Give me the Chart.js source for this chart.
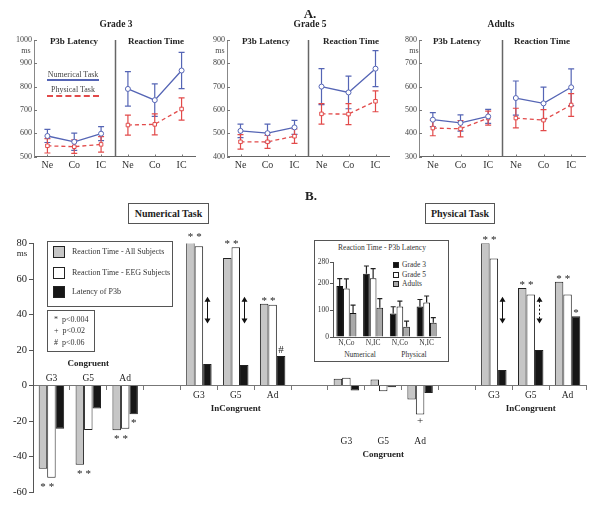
<!DOCTYPE html>
<html>
<head>
<meta charset="utf-8">
<title>P3b latency and reaction time</title>
<script src="https://cdn.jsdelivr.net/npm/chart.js@4.4.1/dist/chart.umd.min.js"></script>
<style>
  body { margin: 0; background: #fff; }
  #page { position: relative; width: 600px; height: 514px; overflow: hidden;
          font-family: "Liberation Serif", "Times New Roman", serif; color: #222; }
  #page canvas { position: absolute; }
  .t { position: absolute; white-space: nowrap; transform: translate(-50%, -50%); line-height: 1; }
  .l { position: absolute; white-space: nowrap; transform: translateY(-50%); line-height: 1; }
  .b { font-weight: bold; }
  .box { position: absolute; box-sizing: border-box; border: 1px solid #555; background: #fff; }
  .ttl { display: flex; align-items: center; justify-content: center; white-space: nowrap; font-size: 10px; font-weight: bold; }
  .sw { position: absolute; box-sizing: border-box; border: 1px solid #222; }
</style>
</head>
<body>
<div id="page">
  <canvas id="mainChart" width="600" height="514" style="left:0;top:0"></canvas>

  <!-- panel A -->
  <canvas id="chartG3" width="200" height="180" style="left:0;top:0"></canvas>
  <canvas id="chartG5" width="196" height="180" style="left:198px;top:0"></canvas>
  <canvas id="chartAd" width="208" height="180" style="left:392px;top:0"></canvas>

  <div class="t b" style="left:310px;top:13px;font-size:13px">A.</div>
  <div class="t b" style="left:116px;top:24.5px;font-size:9.5px">Grade 3</div>
  <div class="t b" style="left:310px;top:24.5px;font-size:9.5px">Grade 5</div>
  <div class="t b" style="left:501px;top:24.5px;font-size:9.5px">Adults</div>
  <div class="t b" style="left:74px;top:41px;font-size:9px">P3b Latency</div>
  <div class="t b" style="left:156px;top:41px;font-size:9px">Reaction Time</div>
  <div class="t b" style="left:266px;top:41px;font-size:9px">P3b Latency</div>
  <div class="t b" style="left:351px;top:41px;font-size:9px">Reaction Time</div>
  <div class="t b" style="left:457px;top:41px;font-size:9px">P3b Latency</div>
  <div class="t b" style="left:542px;top:41px;font-size:9px">Reaction Time</div>
  <div class="t" style="left:26px;top:51px;font-size:8px;color:#444">ms</div>
  <div class="t" style="left:220px;top:51px;font-size:8px;color:#444">ms</div>
  <div class="t" style="left:414px;top:51px;font-size:8px;color:#444">ms</div>

  <div class="t" style="left:73px;top:75px;font-size:8px;color:#444">Numerical Task</div>
  <div style="position:absolute;left:47px;top:79px;width:52px;border-top:2px solid #5565b5"></div>
  <div class="t" style="left:73px;top:90px;font-size:8px;color:#444">Physical Task</div>
  <div style="position:absolute;left:47px;top:95px;width:52px;border-top:2px dashed #e24a4a"></div>

  <!-- panel B -->
  <div class="t b" style="left:311px;top:195px;font-size:13px">B.</div>
  <div class="box ttl" style="left:128px;top:203px;width:81px;height:21px">Numerical Task</div>
  <div class="box ttl" style="left:425px;top:203px;width:70px;height:21px">Physical Task</div>
  <div class="t" style="left:22px;top:253px;font-size:9px">ms</div>

  <div class="box" style="left:47px;top:241px;width:126px;height:66px"></div>
  <div class="sw" style="left:53px;top:246px;width:12px;height:12px;background:#c6c6c6"></div>
  <div class="l" style="left:72px;top:252px;font-size:8px;color:#333">Reaction Time - All Subjects</div>
  <div class="sw" style="left:53px;top:267px;width:12px;height:12px;background:#fff"></div>
  <div class="l" style="left:72px;top:273px;font-size:8px;color:#333">Reaction Time - EEG Subjects</div>
  <div class="sw" style="left:53px;top:286px;width:12px;height:12px;background:#161616"></div>
  <div class="l" style="left:72px;top:292px;font-size:8px;color:#333">Latency of P3b</div>

  <div class="box" style="left:47px;top:310px;width:48px;height:42px"></div>
  <div class="l" style="left:54px;top:320px;font-size:8px;color:#333">*&nbsp;&nbsp;p&lt;0.004</div>
  <div class="l" style="left:54px;top:331px;font-size:8px;color:#333">+&nbsp;&nbsp;p&lt;0.02</div>
  <div class="l" style="left:54px;top:343px;font-size:8px;color:#333">#&nbsp;&nbsp;p&lt;0.06</div>

  <div class="box" style="left:314px;top:240px;width:135px;height:122px"></div>
  <div class="t" style="left:382px;top:248px;font-size:7.5px;color:#333">Reaction Time - P3b Latency</div>
  <div class="sw" style="left:393px;top:262px;width:6px;height:6px;background:#111"></div>
  <div class="l" style="left:402px;top:265px;font-size:7.5px;color:#333">Grade 3</div>
  <div class="sw" style="left:393px;top:272px;width:6px;height:6px;background:#fff"></div>
  <div class="l" style="left:402px;top:275px;font-size:7.5px;color:#333">Grade 5</div>
  <div class="sw" style="left:393px;top:281px;width:6px;height:6px;background:#a9a9a9"></div>
  <div class="l" style="left:402px;top:284px;font-size:7.5px;color:#333">Adults</div>
  <div class="t" style="left:360px;top:355px;font-size:7.5px;color:#333">Numerical</div>
  <div class="t" style="left:414px;top:355px;font-size:7.5px;color:#333">Physical</div>
  <canvas id="insetChart" width="135" height="122" style="left:314px;top:240px"></canvas>
</div>

<script>
// ---- panel A: means and error bars per group (Grade 3, Grade 5, Adults), conditions Ne / Co / IC
const conditions = ['Ne', 'Co', 'IC'];
const p3bNum = [[588, 563, 598], [510, 500, 525], [458, 444, 472]];
const p3bNumErr = [[28, 37, 30], [29, 39, 30], [30, 35, 30]];
const p3bPhy = [[546, 542, 552], [463, 463, 487], [422, 419, 465]];
const p3bPhyErr = [[31, 29, 33], [31, 28, 31], [33, 35, 30]];
const rtNum = [[790, 742, 869], [700, 675, 777], [551, 528, 597]];
const rtNumErr = [[74, 70, 78], [77, 70, 77], [73, 70, 79]];
const rtPhy = [[635, 638, 704], [583, 582, 637], [465, 456, 521]];
const rtPhyErr = [[43, 45, 48], [44, 45, 45], [42, 45, 49]];
const yMins = [500, 400, 300];

// ---- panel B: difference scores (ms)
const bCats = ['G3', 'G5', 'Ad', '', 'G3', 'G5', 'Ad', '', 'G3', 'G5', 'Ad', '', 'G3', 'G5', 'Ad'];
const rtAll = [-46.9, -44.7, -25.2, null, 81.7, 71.9, 46, null, 3.8, 3.4, -7.9, null, 80.4, 55, 58.4];
const rtEeg = [-52, -25, -24.4, null, 78.5, 77.9, 45.5, null, 4.3, -3.2, -16.4, null, 71.5, 51.3, 51.3];
const p3bLat = [-24.4, -13, -16.2, null, 12.1, 11.5, 16.6, null, -2.8, -1, -4.2, null, 8.7, 20, 39];
// significance marks: [category, dataset, symbol]
const sigMarks = [
  [0, 0, '*'], [0, 1, '*'], [1, 0, '*'], [1, 1, '*'], [2, 0, '*'], [2, 1, '*'], [2, 2, '*'],
  [4, 0, '*'], [4, 1, '*'], [5, 0, '*'], [5, 1, '*'], [6, 0, '*'], [6, 1, '*'], [6, 2, '#'],
  [10, 1, '+'],
  [12, 0, '*'], [12, 1, '*'], [13, 0, '*'], [13, 1, '*'], [14, 0, '*'], [14, 1, '*'], [14, 2, '*']
];
const arrowCats = [4, 5, 12, 13];
const arrowFrom = [50, 50, 50, 50];
const arrowTo = [35, 35, 35, 35];

// ---- inset: RT - P3b latency
const insetCats = ['N,Co', 'N,IC', 'N,Co', 'N,IC'];
const insetTicks = [0, 100, 200, 280];
const insetG3 = [190, 236, 88, 114];
const insetG5 = [181, 219, 114, 129];
const insetAd = [90, 109, 38, 53];
const insetG3Err = [28, 29, 25, 26];
const insetG5Err = [36, 36, 20, 24];
const insetAdErr = [29, 34, 21, 19];

Chart.defaults.font.family = '"Liberation Serif", "Times New Roman", serif';
Chart.defaults.color = '#333';
Chart.defaults.animation = false;
Chart.defaults.responsive = false;
Chart.defaults.plugins.legend.display = false;
Chart.defaults.plugins.tooltip.enabled = false;

const BLUE = '#5565b5';
const RED = '#e24a4a';

const errorBars = {
  id: 'errorBars',
  beforeDatasetsDraw(chart, args, opts) {
    const ctx = chart.ctx;
    const ys = chart.scales.y;
    const cap = opts.cap || 3;
    chart.data.datasets.forEach((ds, i) => {
      if (!ds.err) return;
      const meta = chart.getDatasetMeta(i);
      ctx.save();
      ctx.strokeStyle = ds.errColor || ds.borderColor;
      ctx.lineWidth = 1.2;
      ctx.beginPath();
      meta.data.forEach((pt, j) => {
        const v = ds.data[j], e = ds.err[j];
        if (v == null || e == null) return;
        const top = ys.getPixelForValue(v + e);
        const bot = ys.getPixelForValue(opts.upOnly ? v : v - e);
        ctx.moveTo(pt.x, top); ctx.lineTo(pt.x, bot);
        ctx.moveTo(pt.x - cap, top); ctx.lineTo(pt.x + cap, top);
        if (!opts.upOnly) { ctx.moveTo(pt.x - cap, bot); ctx.lineTo(pt.x + cap, bot); }
      });
      ctx.stroke();
      ctx.restore();
    });
  }
};

// divider between the two sub-panels and short inward ticks
const panelDecor = {
  id: 'panelDecor',
  afterDraw(chart) {
    const { ctx, chartArea: a, scales: { x, y } } = chart;
    ctx.save();
    ctx.strokeStyle = '#777';
    ctx.lineWidth = 1;
    ctx.beginPath();
    y.ticks.forEach(t => {
      const py = Math.round(y.getPixelForValue(t.value)) + 0.5;
      ctx.moveTo(a.left, py); ctx.lineTo(a.left + 3, py);
    });
    x.ticks.forEach((t, i) => {
      const px = Math.round(x.getPixelForValue(i)) + 0.5;
      ctx.moveTo(px, a.bottom); ctx.lineTo(px, a.bottom - 2);
    });
    ctx.stroke();
    const dx = Math.round((x.getPixelForValue(2) + x.getPixelForValue(3)) / 2) + 0.5;
    ctx.strokeStyle = '#666';
    ctx.lineWidth = 1.5;
    ctx.beginPath();
    ctx.moveTo(dx, a.top); ctx.lineTo(dx, a.bottom);
    ctx.stroke();
    ctx.restore();
  }
};

function lineSet(data, err, color, dashed, pointStyle) {
  return {
    data, err,
    borderColor: color,
    backgroundColor: '#fff',
    borderWidth: 1.3,
    borderDash: dashed ? [4, 3] : [],
    pointStyle,
    pointRadius: 2.5,
    pointBorderWidth: 1,
    pointBackgroundColor: '#fff',
    pointBorderColor: color,
    spanGaps: false,
    tension: 0
  };
}

function buildGroupChart(canvasId, g, axisW, padR) {
  const none = [null, null, null];
  new Chart(document.getElementById(canvasId), {
    type: 'line',
    data: {
      labels: conditions.concat(conditions),
      datasets: [
        lineSet(p3bNum[g].concat(none), p3bNumErr[g].concat(none), BLUE, false, 'circle'),
        lineSet(p3bPhy[g].concat(none), p3bPhyErr[g].concat(none), RED, true, 'rect'),
        lineSet(none.concat(rtNum[g]), none.concat(rtNumErr[g]), BLUE, false, 'circle'),
        lineSet(none.concat(rtPhy[g]), none.concat(rtPhyErr[g]), RED, true, 'rect')
      ]
    },
    options: {
      layout: { padding: { top: 40, right: padR, bottom: 0, left: 0 } },
      scales: {
        x: {
          offset: true,
          ticks: { font: { size: 10 }, color: '#333', padding: 3, autoSkip: false, maxRotation: 0 },
          grid: { drawOnChartArea: false, drawTicks: false },
          border: { color: '#666' },
          afterFit: s => { s.height = 23.5; }
        },
        y: {
          min: yMins[g],
          max: yMins[g] + 500,
          ticks: { stepSize: 100, font: { size: 8 }, color: '#444', padding: 2, callback: v => String(v) },
          grid: { drawOnChartArea: false, drawTicks: false },
          border: { color: '#888' },
          afterFit: s => { s.width = axisW; }
        }
      },
      plugins: { errorBars: { cap: 3 } }
    },
    plugins: [errorBars, panelDecor]
  });
}

buildGroupChart('chartG3', 0, 34, 2);
buildGroupChart('chartG5', 1, 29, 2);
buildGroupChart('chartAd', 2, 27, 15);

// ---- panel B main bar chart
const bGroupLayout = [
  { first: 0, title: 'Congruent', labelY: 378, titleY: 364 },
  { first: 4, title: 'InCongruent', labelY: 395, titleY: 409 },
  { first: 8, title: 'Congruent', labelY: 441, titleY: 455 },
  { first: 12, title: 'InCongruent', labelY: 395, titleY: 409 }
];
const bSeries = [rtAll, rtEeg, p3bLat];

const barMarks = {
  id: 'barMarks',
  afterDatasetsDraw(chart) {
    const ctx = chart.ctx;
    const ys = chart.scales.y;
    const xs = chart.scales.x;
    ctx.save();
    ctx.fillStyle = '#222';
    ctx.textAlign = 'center';
    ctx.textBaseline = 'middle';
    ctx.font = '11px "Liberation Serif"';
    sigMarks.forEach(([cat, ds, sym]) => {
      const bar = chart.getDatasetMeta(ds).data[cat];
      const vals = ds < 2 ? [bSeries[0][cat], bSeries[1][cat]] : [bSeries[2][cat]];
      const up = vals[0] >= 0;
      const v = up ? Math.max(...vals) : Math.min(...vals);
      const py = ys.getPixelForValue(v);
      const off = sym === '*' ? (up ? -3 : 9) : (up ? -6 : 6);
      ctx.fillText(sym, bar.x, py + off);
    });

    // double-headed arrows
    ctx.strokeStyle = '#111';
    ctx.lineWidth = 1;
    arrowCats.forEach((cat, k) => {
      const x = Math.round(chart.getDatasetMeta(2).data[cat].x) + 0.5;
      const y1 = ys.getPixelForValue(arrowFrom[k]);
      const y2 = ys.getPixelForValue(arrowTo[k]);
      ctx.setLineDash(k === 3 ? [2, 2] : []);
      ctx.beginPath();
      ctx.moveTo(x, y1 + 4); ctx.lineTo(x, y2 - 4);
      ctx.stroke();
      ctx.setLineDash([]);
      ctx.beginPath();
      ctx.moveTo(x, y1); ctx.lineTo(x - 3, y1 + 5); ctx.lineTo(x + 3, y1 + 5); ctx.closePath();
      ctx.moveTo(x, y2); ctx.lineTo(x - 3, y2 - 5); ctx.lineTo(x + 3, y2 - 5); ctx.closePath();
      ctx.fillStyle = '#111';
      ctx.fill();
    });

    // category and group labels
    ctx.fillStyle = '#222';
    bGroupLayout.forEach(grp => {
      ctx.font = '9.5px "Liberation Serif"';
      for (let i = grp.first; i < grp.first + 3; i++) {
        ctx.fillText(bCats[i], xs.getPixelForValue(i), grp.labelY);
      }
      ctx.font = 'bold 9px "Liberation Serif"';
      ctx.fillText(grp.title, xs.getPixelForValue(grp.first + 1), grp.titleY);
    });
    ctx.restore();
  }
};

const barStyle = { borderColor: '#222', borderWidth: 1, barPercentage: 1, categoryPercentage: 0.69 };

new Chart(document.getElementById('mainChart'), {
  type: 'bar',
  data: {
    labels: bCats,
    datasets: [
      Object.assign({ label: 'Reaction Time - All Subjects', data: rtAll, backgroundColor: '#c6c6c6' }, barStyle),
      Object.assign({ label: 'Reaction Time - EEG Subjects', data: rtEeg, backgroundColor: '#ffffff' }, barStyle),
      Object.assign({ label: 'Latency of P3b', data: p3bLat, backgroundColor: '#161616' }, barStyle)
    ]
  },
  options: {
    layout: { padding: { top: 243.5, right: 14, bottom: 22, left: 0 } },
    scales: {
      x: {
        position: { y: 0 },
        offset: true,
        ticks: { display: false },
        grid: { offset: true, drawOnChartArea: false, tickLength: 4, color: '#777' },
        border: { color: '#777' }
      },
      y: {
        min: -60,
        max: 80,
        ticks: { stepSize: 20, font: { size: 10.5 }, color: '#222', padding: 2 },
        grid: { drawOnChartArea: false, tickLength: 4, color: '#555' },
        border: { color: '#555' },
        afterFit: s => { s.width = 33; }
      }
    }
  },
  plugins: [barMarks]
});

// ---- inset chart
const insetStyle = { borderColor: '#111', borderWidth: 1, barPercentage: 1, categoryPercentage: 0.75, errColor: '#222' };

new Chart(document.getElementById('insetChart'), {
  type: 'bar',
  data: {
    labels: insetCats,
    datasets: [
      Object.assign({ label: 'Grade 3', data: insetG3, err: insetG3Err, backgroundColor: '#111' }, insetStyle),
      Object.assign({ label: 'Grade 5', data: insetG5, err: insetG5Err, backgroundColor: '#fff' }, insetStyle),
      Object.assign({ label: 'Adults', data: insetAd, err: insetAdErr, backgroundColor: '#a9a9a9' }, insetStyle)
    ]
  },
  options: {
    layout: { padding: { top: 22, right: 9, bottom: 0, left: 0 } },
    scales: {
      x: {
        ticks: { font: { size: 7.5 }, color: '#333', padding: 2, autoSkip: false, maxRotation: 0 },
        grid: { drawOnChartArea: false, drawTicks: false },
        border: { color: '#555' },
        afterFit: s => { s.height = 25; }
      },
      y: {
        min: 0,
        max: 280,
        afterBuildTicks: s => { s.ticks = insetTicks.map(v => ({ value: v })); },
        ticks: { font: { size: 7.5 }, color: '#333', padding: 1 },
        grid: { drawOnChartArea: false, tickLength: 3, color: '#555' },
        border: { color: '#555' },
        afterFit: s => { s.width = 19; }
      }
    },
    plugins: { errorBars: { cap: 2.5, upOnly: true } }
  },
  plugins: [errorBars]
});
</script>
</body>
</html>
